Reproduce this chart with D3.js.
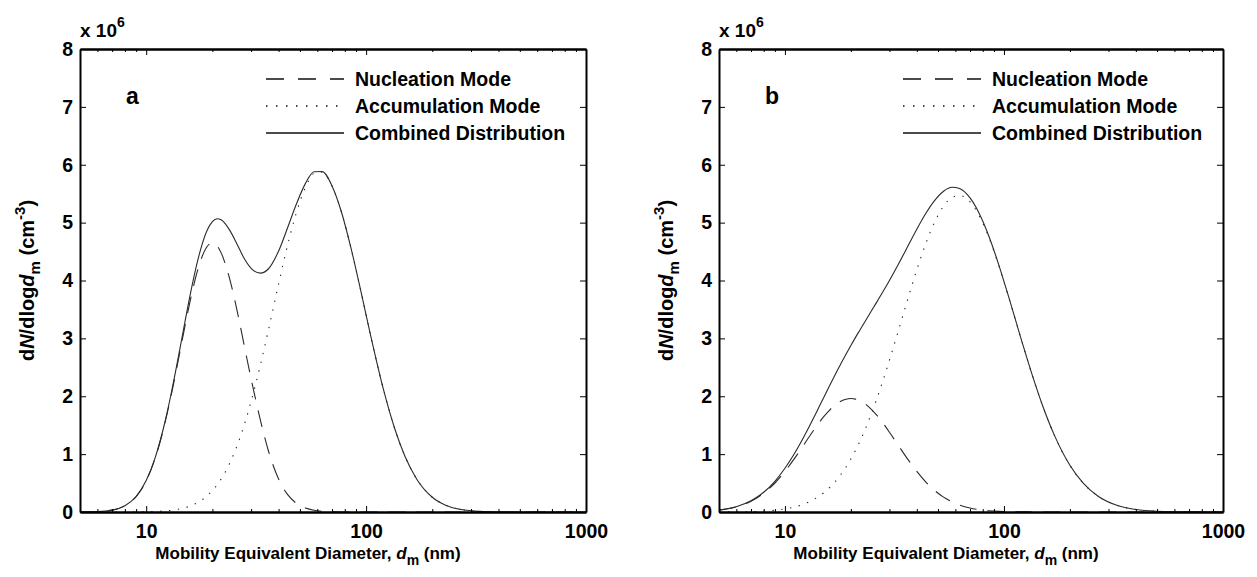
<!DOCTYPE html>
<html>
<head>
<meta charset="utf-8">
<script src="https://cdn.jsdelivr.net/npm/d3@7"></script>
<style>
html, body { margin: 0; padding: 0; background: #fff; }
#chart { width: 1257px; height: 577px; }
text { font-family: Arial, "Liberation Sans", Helvetica, sans-serif; font-weight: bold; fill: #000; }
.axis .domain { stroke: #000; stroke-width: 2; }
.axis .tick line { stroke: #000; stroke-width: 1; }
.axis text { font-size: 19.5px; }
</style>
</head>
<body>
<div id="chart"></div>
<script>
// diameters (nm) where the curves were read
var diam = [5, 6, 7, 8, 9, 10, 11, 12, 13, 14, 15, 16, 17, 18, 19, 20, 21, 22, 24, 26, 28, 30,
            33, 36, 40, 44, 48, 53, 58, 63, 70, 77, 85, 95, 105, 120, 135, 150, 170, 200, 230,
            270, 330, 400, 500, 650, 1000];

// panel a, values in 10^6 cm^-3
var nucA  = [0.001, 0.007, 0.033, 0.108, 0.266, 0.539, 0.936, 1.443, 2.023, 2.628, 3.209, 3.719, 4.130, 4.424, 4.596, 4.650, 4.601, 4.464, 4.020, 3.450, 2.850, 2.300,
             1.600, 1.050, 0.570, 0.300, 0.155, 0.068, 0.030, 0.013, 0.004, 0.001, 0, 0, 0, 0, 0, 0, 0, 0, 0,
             0, 0, 0, 0, 0, 0];
var accA  = [0, 0, 0, 0.001, 0.002, 0.004, 0.009, 0.017, 0.029, 0.048, 0.074, 0.109, 0.156, 0.214, 0.285, 0.369, 0.467, 0.580, 0.846, 1.163, 1.521, 1.911,
             2.528, 3.153, 3.939, 4.616, 5.149, 5.610, 5.850, 5.870, 5.630, 5.200, 4.590, 3.790, 3.040, 2.114, 1.439, 0.968, 0.567, 0.255, 0.117,
             0.043, 0.010, 0.002, 0, 0, 0];
var combA = [0.001, 0.007, 0.033, 0.109, 0.268, 0.543, 0.945, 1.460, 2.052, 2.676, 3.283, 3.828, 4.286, 4.638, 4.881, 5.019, 5.068, 5.044, 4.866, 4.613, 4.371, 4.211,
             4.128, 4.203, 4.509, 4.916, 5.304, 5.678, 5.880, 5.883, 5.634, 5.201, 4.590, 3.790, 3.040, 2.114, 1.439, 0.968, 0.567, 0.255, 0.117,
             0.043, 0.010, 0.002, 0, 0, 0];

// panel b
var nucB  = [0.032, 0.088, 0.186, 0.326, 0.501, 0.702, 0.913, 1.122, 1.318, 1.493, 1.642, 1.762, 1.852, 1.914, 1.949, 1.960, 1.950, 1.922, 1.826, 1.691, 1.538, 1.379,
             1.146, 0.936, 0.701, 0.518, 0.380, 0.257, 0.174, 0.117, 0.068, 0.040, 0.022, 0.011, 0.006, 0.002, 0.001, 0, 0, 0, 0,
             0, 0, 0, 0, 0, 0];
var accB  = [0.001, 0.003, 0.007, 0.016, 0.030, 0.053, 0.084, 0.127, 0.182, 0.249, 0.329, 0.423, 0.529, 0.648, 0.777, 0.917, 1.067, 1.223, 1.557, 1.909, 2.266, 2.622,
             3.140, 3.622, 4.185, 4.643, 4.992, 5.286, 5.436, 5.468, 5.359, 5.123, 4.761, 4.243, 3.714, 2.977, 2.351, 1.841, 1.324, 0.807, 0.498,
             0.267, 0.111, 0.043, 0.013, 0.003, 0];
var combB = [0.033, 0.091, 0.193, 0.341, 0.531, 0.755, 0.997, 1.249, 1.500, 1.742, 1.971, 2.185, 2.381, 2.562, 2.726, 2.877, 3.017, 3.145, 3.383, 3.600, 3.804, 4.001,
             4.286, 4.558, 4.886, 5.161, 5.372, 5.543, 5.610, 5.585, 5.427, 5.163, 4.783, 4.254, 3.720, 2.979, 2.352, 1.841, 1.324, 0.807, 0.498,
             0.267, 0.111, 0.043, 0.013, 0.003, 0];

var xTicks = [10, 100, 1000];
var xMinor = [6, 7, 8, 9, 20, 30, 40, 50, 60, 70, 80, 90, 200, 300, 400, 500, 600, 700, 800, 900];
var yTicks = [0, 1, 2, 3, 4, 5, 6, 7, 8];
var legendLabels = ["Nucleation Mode", "Accumulation Mode", "Combined Distribution"];
var dashes = ["17,11", "1.4,7.5", null];

var width = 1257, height = 577;
var svg = d3.select("#chart").append("svg")
    .attr("width", width)
    .attr("height", height);

var plotTop = 49, plotBottom = 512;

var panels = [
    {name: "a", left: 80, right: 586, series: [nucA, accA, combA]},
    {name: "b", left: 719, right: 1223, series: [nucB, accB, combB]}
];

panels.forEach(drawPanel);

function drawPanel(p) {
    var w = p.right - p.left, h = plotBottom - plotTop;
    var g = svg.append("g").attr("transform", "translate(" + [p.left, plotTop] + ")");

    var x = d3.scaleLog().domain([5, 1000]).range([0, w]);
    var y = d3.scaleLinear().domain([0, 8]).range([h, 0]);

    var line = d3.line()
        .x(function(d, i){ return x(diam[i]); })
        .y(function(d){ return y(d); })
        .curve(d3.curveMonotoneX);

    //curves
    p.series.forEach(function(s, k){
        g.append("path")
            .attr("d", line(s))
            .attr("fill", "none")
            .attr("stroke", "#2a2a2a")
            .attr("stroke-width", 1.1)
            .attr("stroke-dasharray", dashes[k]);
    });

    //axes, ticks pointing inward
    g.append("g").attr("class", "axis").attr("transform", "translate(0," + h + ")")
        .call(d3.axisBottom(x).tickValues(xTicks).tickFormat(d3.format("d"))
            .tickSizeInner(-6).tickSizeOuter(0).tickPadding(12));
    g.append("g").attr("class", "axis").attr("transform", "translate(0," + h + ")")
        .call(d3.axisBottom(x).tickValues(xMinor).tickFormat("").tickSizeInner(-3).tickSizeOuter(0));
    g.append("g").attr("class", "axis")
        .call(d3.axisTop(x).tickValues(xTicks).tickFormat("").tickSizeInner(-6).tickSizeOuter(0));
    g.append("g").attr("class", "axis")
        .call(d3.axisTop(x).tickValues(xMinor).tickFormat("").tickSizeInner(-3).tickSizeOuter(0));
    g.append("g").attr("class", "axis")
        .call(d3.axisLeft(y).tickValues(yTicks).tickSizeInner(-6).tickSizeOuter(0).tickPadding(7));
    g.append("g").attr("class", "axis").attr("transform", "translate(" + w + ",0)")
        .call(d3.axisRight(y).tickValues(yTicks).tickFormat("").tickSizeInner(-6).tickSizeOuter(0));

    //exponent label
    var ex = g.append("text").attr("x", 0).attr("y", -12).style("font-size", "19px");
    ex.append("tspan").text("x 10");
    ex.append("tspan").attr("dy", -10).style("font-size", "14px").text("6");

    //panel letter
    g.append("text").attr("x", 46).attr("y", 55).style("font-size", "23px").text(p.name);

    //legend
    var leg = g.append("g").attr("transform", "translate(" + (w - 320) + ",0)");
    legendLabels.forEach(function(lab, k){
        var ly = 30 + k * 27;
        leg.append("line")
            .attr("x1", 0).attr("x2", 78).attr("y1", ly).attr("y2", ly)
            .attr("stroke", "#111").attr("stroke-width", 1.5)
            .attr("stroke-dasharray", k === 0 ? "18,14" : (k === 1 ? "1.5,8.5" : null));
        leg.append("text").attr("x", 89).attr("y", ly + 7).style("font-size", "19.5px").text(lab);
    });

    //x label
    var xl = g.append("text").attr("x", w / 2 - 25).attr("y", 559 - plotTop)
        .attr("text-anchor", "middle").style("font-size", "17px");
    xl.append("tspan").text("Mobility Equivalent Diameter, ");
    xl.append("tspan").style("font-style", "italic").text("d");
    xl.append("tspan").attr("dy", 6).style("font-size", "14px").text("m");
    xl.append("tspan").attr("dy", -6).text(" (nm)");

    //y label
    var yl = g.append("text")
        .attr("transform", "translate(-46," + (h / 2) + ") rotate(-90)")
        .attr("text-anchor", "middle").style("font-size", "20px");
    yl.append("tspan").text("d");
    yl.append("tspan").style("font-style", "italic").text("N");
    yl.append("tspan").text("/dlog");
    yl.append("tspan").style("font-style", "italic").text("d");
    yl.append("tspan").attr("dy", 6).style("font-size", "15px").text("m");
    yl.append("tspan").attr("dy", -6).text(" (cm");
    yl.append("tspan").attr("dy", -9).style("font-size", "15px").text("-3");
    yl.append("tspan").attr("dy", 9).text(")");
}
</script>
</body>
</html>
